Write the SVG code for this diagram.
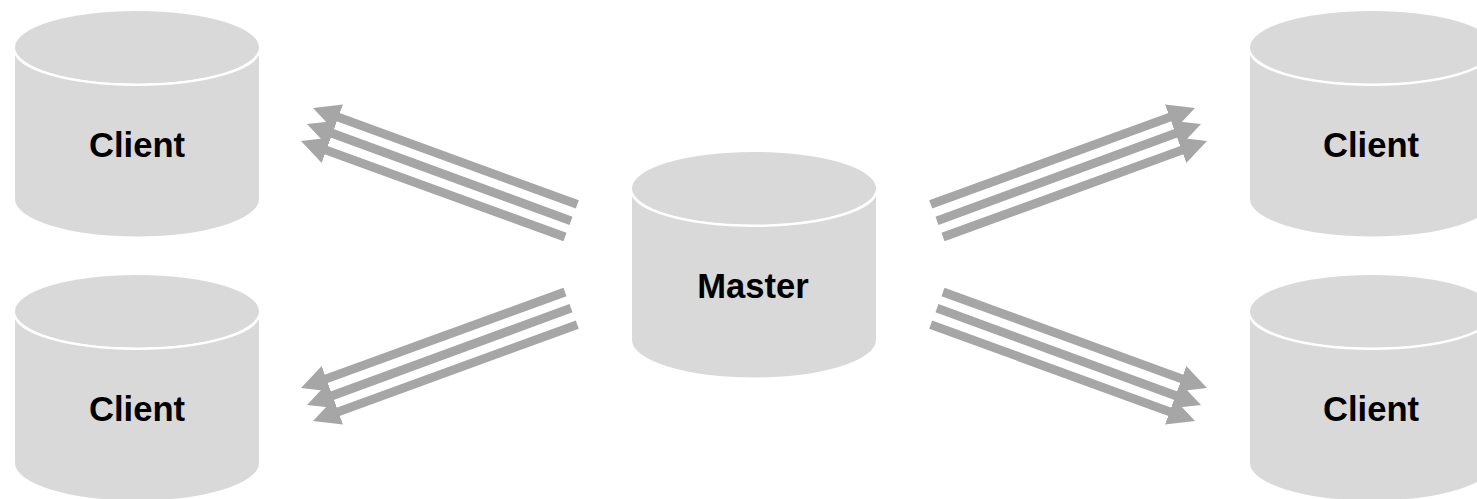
<svg xmlns="http://www.w3.org/2000/svg" width="1477" height="499" viewBox="0 0 1477 499">
<style>
.body{fill:#d9d9d9}
.rim{fill:none;stroke:#fff;stroke-width:3}
.label{font-family:"Liberation Sans",Arial,sans-serif;font-weight:700;font-size:34.600px;fill:#000;text-anchor:middle}
.arrow{stroke:#a6a6a6;stroke-width:8.800;fill:none;marker-end:url(#head)}
</style>
<defs>
<marker id="head" markerUnits="userSpaceOnUse" markerWidth="30" markerHeight="30" refX="1" refY="15" orient="auto">
<path d="M0 1.500L27 15L0 28.500Z" fill="#a6a6a6"/>
</marker>
<g id="cyl">
<path class="body" d="M632 188V340A122 37.500 0 0 0 876 340V188Z"/>
<path class="rim" d="M632 196V190A122 35.500 0 0 0 876 190V196"/>
<ellipse class="body" cx="754" cy="188.250" rx="122" ry="36.250"/>
</g>
</defs>
<g id="connectors">
<path class="arrow" d="M577.300 204.400L337.400 116.900"/>
<path class="arrow" d="M571 220.900L331.400 133"/>
<path class="arrow" d="M565 237L325.400 149.900"/>
<path class="arrow" d="M930.700 204.400L1170.600 116.900"/>
<path class="arrow" d="M937 220.900L1176.600 133"/>
<path class="arrow" d="M943 237L1182.600 149.900"/>
<path class="arrow" d="M577.300 324.600L337.400 412.100"/>
<path class="arrow" d="M571 308.100L331.400 396"/>
<path class="arrow" d="M565 292L325.400 379.100"/>
<path class="arrow" d="M930.700 324.600L1170.600 412.100"/>
<path class="arrow" d="M937 308.100L1176.600 396"/>
<path class="arrow" d="M943 292L1182.600 379.100"/>
</g>
<g id="master"><use href="#cyl"/><text class="label" x="753" y="297.500">Master</text></g>
<g id="client-top-left"><use href="#cyl" transform="translate(-617 -141)"/><text class="label" x="137" y="156.500">Client</text></g>
<g id="client-bottom-left"><use href="#cyl" transform="translate(-617 123)"/><text class="label" x="137" y="420.500">Client</text></g>
<g id="client-top-right"><use href="#cyl" transform="translate(618 -141)"/><text class="label" x="1371" y="156.500">Client</text></g>
<g id="client-bottom-right"><use href="#cyl" transform="translate(618 123)"/><text class="label" x="1371" y="420.500">Client</text></g>
</svg>
